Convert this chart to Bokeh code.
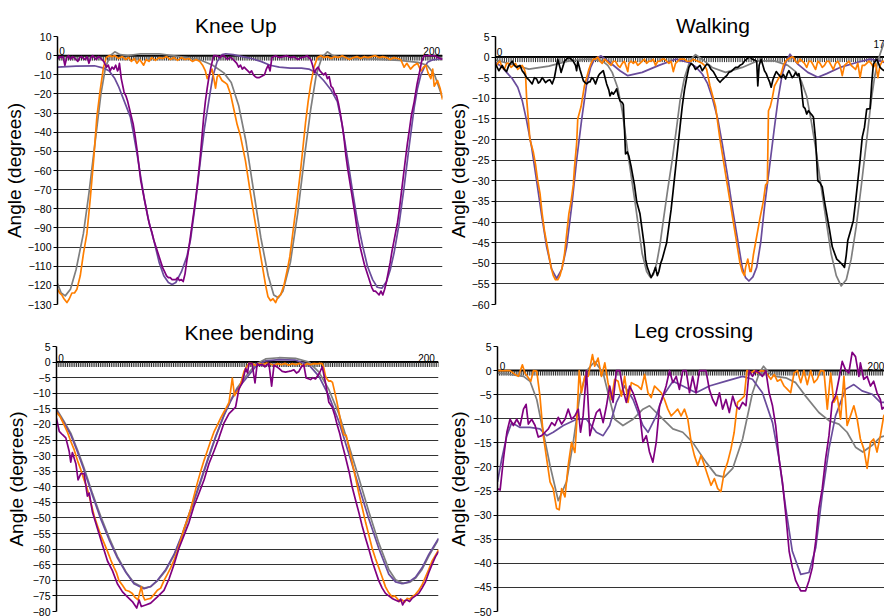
from bokeh.plotting import figure
from bokeh.layouts import column, row
from bokeh.models import Range1d, FixedTicker, Span
from bokeh.core.properties import value
from bokeh.embed import file_html
from bokeh.resources import INLINE

FONT = "Liberation Sans"
ORANGE = "#FF7F00"
PURPLE = "#800080"
GREY = "#7F7F7F"
SLATE = "#6A4C9C"
BLACK = "#000000"

# ---------------------------------------------------------------- Knee Up
KU_YTICKS = [10, 0, -10, -20, -30, -40, -50, -60, -70, -80, -90, -100, -110, -120, -130]
KU_XTICKS = [0, 200]
KU_XTICK_LABELS = ["0", "200"]
KU_ORANGE = [(0,-122),(1.2,-124),(2.3,-125),(3.5,-127),(5.1,-129),(6.4,-127),(7.8,-124),(9.2,-124),(10.5,-122),(12.3,-115),(14.1,-103),(15.9,-93),(17.7,-75),(19.5,-55),(21.3,-32),(23.1,-18),(24.9,-6),(26.4,-1),(28,0),(29.5,-0.5),(31,0),(33,-1.5),(35,-0.5),(37,-2),(38.5,-1),(40,-3),(41.5,-1.5),(43,-4),(44.5,-2),(46.6,-5),(48,-2),(49.5,-3),(51,-1),(53,-2.5),(55,-1),(57,-1.5),(59,-0.5),(61,-2),(63,-1),(65,-2.5),(67,-1),(69,-2),(71,-1.5),(73,-3),(75,-2),(77,-3),(78.5,-5),(80,-8),(81,-12),(82.2,-10),(83.6,-7),(84.6,-12),(85.5,-17),(86.4,-11),(87.3,-10),(89,-13),(90.5,-14),(91.8,-15),(93.6,-20),(95.4,-28),(97.2,-36),(99,-42),(101.7,-55),(104.4,-72),(107.1,-88),(109.8,-104),(112.6,-120),(113.9,-126),(115.3,-128),(116.6,-127),(118,-129),(119.3,-126),(120.7,-125),(122.5,-120),(124.3,-112),(125.7,-105),(127,-95),(128.3,-85),(129.7,-75),(131.5,-60),(132.8,-48),(134.2,-35),(135.6,-24),(137,-15),(138.8,-6),(140.6,-1),(142.5,0),(144,-1),(146,-0.5),(148,-1.5),(150,-0.5),(152,-1),(154,0),(156,-1),(158,-2),(160,-1),(162,-0.5),(164,-1.5),(166,-0.5),(168,-1),(170,-0.5),(172,0),(174,-1),(176,-0.5),(178,-1),(180,-2),(182,-1),(184,-1.5),(185.7,-2),(187.5,-6),(189,-4),(191,-7),(193,-5),(194.8,-4),(196.6,-8),(198,-6),(199.3,-5),(200.5,-9),(202,-12),(203,-7),(203.8,-16),(205.6,-13),(207,-17),(208.3,-23)]
KU_PURPLE = [(0,-2),(1,-0.5),(2,-1),(3,-0.5),(4,-5),(5,-1),(6,0),(7,-2),(8,-0.5),(9,-1),(10,-2),(11,-3),(12,-1),(13,-0.5),(14,-1.5),(15,-2),(16,-0.5),(17,-4),(18,-1),(19,0),(20,-1),(21,-2),(22,-0.5),(23,-1),(24,-2),(25,-3),(26.5,-6),(27.5,-5),(28.5,-8),(29.5,-6),(30.5,-7),(31.5,-5),(32.5,-8),(33,-7),(33.5,-4),(34.5,-12),(36,-19),(37,-21),(38,-24),(39,-28),(40,-32),(41,-36),(42,-42),(43,-49),(44,-57),(45,-65),(46,-70),(47,-75),(48,-80),(49,-85),(50,-89),(51,-92),(52,-96),(53,-99),(54,-102),(55,-105),(56,-108),(57,-111),(58,-113),(59,-115),(60,-116),(61,-116),(62,-117),(63,-117),(64,-117),(65,-116),(66,-117.5),(67,-117),(68,-118),(69,-114),(70,-107),(71,-101),(72,-94),(73,-87),(74,-80),(75,-73),(75.5,-69),(76.5,-60),(77.5,-50),(78.3,-41),(79.1,-32),(80,-24),(81,-17),(81.8,-12),(83,-6),(84,-2),(84.6,0),(86,0),(87,-0.5),(88,-1),(89,0),(90,0),(91,-1),(92,-2),(93,-1),(94,-1),(95,-2),(96,-3),(97,-4),(98,-6),(99,-5),(100,-7),(101,-6),(102,-7),(103,-8),(104,-9),(105,-8),(106,-10),(107,-11),(108,-11.5),(109,-11.5),(110,-11),(111,-10.5),(112,-10),(113,-7),(114,-5),(115,-8),(116,-1),(117,-0.5),(118,0),(120,-1),(122,-0.5),(124,0),(126,-1),(128,-0.5),(130,-2),(132,-1),(134,-0.5),(135,0),(136,-1),(137,-2),(138,-5),(139,-9),(140,-7),(141,-6),(142,-8),(143,-9),(144,-10),(145,-9),(146,-12),(147,-11),(148,-16),(149,-17),(150,-20),(151,-21),(152,-25),(153,-30),(154,-36),(155,-43),(156,-52),(157,-59),(158,-65),(159,-71),(160,-77),(161,-83),(162,-90),(163,-96),(164,-101),(165,-105),(166,-109),(167,-112),(168,-115),(169,-118),(170,-121),(171,-123),(172,-123),(173,-124),(174,-125),(175,-123),(176,-125),(177,-122),(178,-118),(179,-113),(180,-108),(181,-102),(182,-97),(183,-92),(184,-87),(185,-80),(186,-72),(187,-64),(188,-56),(189.3,-46),(190.5,-38),(191.5,-31),(193,-24),(194.5,-15),(196,-8),(197,-3),(198.4,0),(200,0),(202,0),(204,0),(206,-1),(208.3,-2)]
KU_GREY = [(0,-119),(2,-124),(4.2,-125.5),(7,-122),(10,-112),(14,-93),(17,-72),(21,-40),(23.5,-20),(26,-6),(28.5,0),(31,2),(34,0.5),(38,0),(45,1),(55,1),(62,0),(70,-1),(78,-2.5),(84,-5),(90,-9),(94,-14),(98,-26),(102,-45),(106,-70),(110,-95),(114,-115),(117,-125),(119.5,-126.5),(122,-123),(126,-108),(130,-82),(134,-50),(137,-28),(140,-10),(143,-1),(146,2),(149,0),(155,-1),(165,-1.5),(175,-2),(185,-2.5),(195,-3.5),(200,-5),(204,-10),(208.3,-22)]
KU_SLATE = [(0,-6),(10,-5.5),(20,-5.3),(25,-6.5),(28,-8),(31,-12),(33,-16),(35,-21),(37,-26),(39.4,-32),(41,-40),(43,-51),(44.8,-62),(47,-75),(49.5,-87),(52,-96),(55,-108),(57.5,-115),(60,-118.5),(62,-119.5),(64,-118.5),(67,-113),(70,-105),(72,-96),(74.5,-78),(77.3,-55),(79.5,-38),(81.8,-24),(84,-11),(86.4,-3),(89,0.5),(91,1),(95,0.5),(100,-0.5),(105,-1.5),(110,-3),(115,-5),(120,-6),(126,-6.5),(132,-6.5),(136,-7),(140,-9),(144,-13),(148,-18),(151.4,-24),(154,-36),(156.8,-53),(159.5,-70),(162.2,-86),(165,-99),(167.7,-110),(170.5,-117),(173,-121),(175.5,-121.5),(178,-118),(180,-112),(182.1,-103),(184.8,-88),(187.5,-69),(190.3,-47),(193,-27),(194.8,-17),(196.6,-10),(198.5,-6),(200.2,-3.5),(203,-2.2),(208.3,-1.5)]

# ---------------------------------------------------------------- Walking
WK_YTICKS = [5, 0, -5, -10, -15, -20, -25, -30, -35, -40, -45, -50, -55, -60]
WK_XTICKS = [0, 175]
WK_XTICK_LABELS = ["0", "17"]
WK_ORANGE = [(0,-2.5),(1,-1.5),(2,-1),(3,-2.5),(4,-3),(5,-1.5),(6,-1.5),(7,-2.5),(8,-2),(9,-1.5),(10,-3),(11,-2.5),(12,-2),(13,-3),(13.5,-4),(14,-10),(15.5,-20),(16.5,-22),(17,-23),(18,-26),(19,-30),(20,-33),(21,-38),(22,-42),(23,-45),(24,-48),(25,-51),(26,-53),(27,-54),(28,-54),(29,-53),(30,-51),(31,-48),(32,-43),(33,-38),(34,-35),(35,-31),(35.5,-27),(36.5,-21),(37,-15),(38.5,-12),(40,-7),(41,-5),(42,-3),(43,-1.5),(44,-0.5),(45,-0.5),(46,0),(47,-1),(48,-1.5),(49,-0.5),(50,-1),(51,-1.5),(52,-2),(53,-1),(54,-1),(55,-2),(56,-2.5),(57,-1.5),(58,-1),(59.5,-3.5),(60,-1.5),(61,-1),(62,-1.5),(63,-1),(64,-2),(65,-1.5),(66,-1),(67,-0.5),(68,-1.5),(69,-1),(70,-1),(71,-0.5),(72,-2),(73,-1),(74,-1),(75,-0.5),(76,-0.5),(77,-1),(78,-1.5),(79,-1),(80,-3.5),(81,-1.5),(82,-1),(83,-0.5),(85,-0.5),(86,-1),(88,-1),(89,-0.5),(91,-1),(93,-1.5),(94,-2),(95,-3),(96.5,-7),(98,-10),(99,-12),(100,-16),(101,-20),(102.5,-25),(104,-30),(105.5,-35),(107,-40),(108.5,-45),(110,-50),(111,-52),(112,-53),(112.5,-51),(113.5,-49),(114.5,-52),(115,-52),(116,-48),(117,-45),(118,-42),(119,-39),(120.5,-35),(121.5,-31),(122.3,-30.5),(122.8,-13),(123.6,-12),(124.5,-10),(125.5,-7),(126.5,-6),(127.5,-5),(128.5,-4),(129.5,-2),(130.5,-1),(131.5,-0.5),(133,0),(134,0),(135,-1),(136,-1.5),(137,-0.5),(138,-1),(139,-1.5),(140,-2.5),(141,-1),(142,-1),(143,-2),(144,-3),(145,-1),(146,-1.5),(147,-2.5),(148,-2),(149,-1),(150,-1),(151,-2),(152,-3),(153,-1.5),(154,-1),(155,-2),(156,-4.5),(157,-2),(158,-1.5),(159,-1),(160,-2),(161,-2.5),(162,-3),(163,-1.5),(164,-5),(165,-2),(166,-2),(167,-1.5),(168,-1),(169,-1.5),(170,-2.5),(171,-1.5),(172,-5),(173,-2),(173.5,-1.5),(174,-1),(175,-1)]
WK_BLACK = [(0,-1.7),(1.5,-3.3),(3,-2),(4,-3),(5,-3.5),(6,-2),(7.5,-1),(8.5,-2),(9.5,-2.5),(11,-2),(12,-3.3),(13,-4),(14,-5),(15,-5.5),(16.5,-6.5),(17.5,-5),(18.5,-5.3),(19.3,-6.3),(20,-6),(21,-5),(21.5,-5.3),(22.5,-6.2),(23.5,-5.7),(24.5,-5.5),(25.5,-6.5),(26.5,-5),(27.5,-2),(28,-0.5),(29,-2.5),(29.5,-3.7),(30.5,-2),(31,-1),(32,-0.5),(33,0),(34,-0.5),(35,-1),(36,-2),(36.5,-3.3),(37,-1),(38,-3),(39.5,-5.7),(40.3,-6.2),(41,-6.5),(42,-6),(42.5,-6),(43.3,-5),(44,-5.3),(45,-6.5),(45.5,-5.7),(46.3,-4.5),(47,-4),(48,-3.5),(48.5,-3.3),(49.3,-5),(50,-6.5),(51,-8),(51.5,-9.4),(52.3,-8.5),(53,-9),(54,-8.2),(54.5,-7.7),(55.3,-9.5),(56,-10.6),(57,-11),(57.5,-11.5),(58,-17),(58.5,-23.5),(59.3,-23),(60,-24),(61,-26.5),(61.5,-28),(62.5,-31),(63.5,-35),(65,-38),(66,-42),(67,-46),(67.5,-49),(68.3,-51),(69,-52),(70,-53.5),(70.5,-53),(71.3,-52),(72,-51),(72.8,-53),(73.5,-52),(74.3,-50),(75,-49),(76,-47),(77,-45),(78,-41),(79,-37),(80,-32),(81,-27),(82,-22),(83,-17),(84,-12),(85,-8),(86,-5),(87,-2.5),(88,-1.5),(89,-2),(90,-3),(91,-2.5),(92,-2),(93,-3.3),(94,-2.5),(95,-1.7),(96,-2),(97,-3),(98,-3.5),(99,-4.5),(100,-5.5),(101,-6.1),(102,-5.5),(103,-5),(104,-4.5),(105,-3.7),(106,-3.5),(107,-3),(108,-2.5),(109,-2.5),(110,-2),(111,-1.7),(112,-1),(113,-0.5),(114,0),(114.5,0),(115.5,-0.5),(116.5,-0.7),(117.5,-1),(118,-7),(118.6,-2),(119.5,-0.5),(120.3,-2),(121,-3.3),(121.8,-4),(122.5,-5),(123.3,-6),(124,-7.3),(124.8,-5.5),(125.5,-4.5),(126.3,-3.5),(127,-4),(127.8,-4.5),(128.5,-5),(129.5,-4.2),(130.5,-5.3),(131.3,-4),(132,-3.3),(132.8,-4.2),(133.5,-5),(134.3,-4.5),(135,-3.7),(135.8,-4.5),(136.5,-4),(137.5,-7),(138.5,-12),(139.3,-12.5),(140,-13.8),(140.8,-13),(141.5,-13.5),(142.3,-14),(143,-14.5),(144,-20),(145,-30),(146,-30.5),(147,-31.5),(148,-35),(149,-38),(150.3,-42),(151.5,-46),(152.5,-47.5),(153.5,-49),(154.5,-49.5),(155.5,-50),(156.3,-50.5),(157,-51),(157.8,-48),(158.5,-44.4),(159.8,-42),(161,-39.6),(162,-35),(163,-30),(164,-25),(165,-19.4),(166,-17),(167,-12.6),(168.5,-12.5),(169.3,-6),(170,-1.7),(170.8,-1),(171.5,-0.5),(172.3,-1.5),(173,-2.5),(174,-3),(175,-3.3)]
WK_GREY = [(0,-0.7),(7,-1.7),(15,-2.9),(24,-2.2),(33,-0.9),(42,-0.5),(48,-0.9),(50.5,-2),(52.5,-3.7),(55,-7.5),(57,-13),(60,-25),(63,-36),(66,-47.7),(68,-52),(69.5,-53.3),(71,-52.8),(72.5,-50),(74,-45.5),(75.5,-39.6),(77.5,-32),(79.5,-25),(81.5,-17),(83,-10.6),(85,-5),(87,-1.7),(88.5,-0.2),(90,0.6),(93,-0.5),(97.5,-2.5),(103.5,-3.7),(111,-2.5),(118,-0.9),(125.5,-0.9),(131.5,-2),(135,-3.5),(137.5,-5.7),(140,-9.5),(142,-15.4),(144.3,-23),(146.5,-31.5),(149,-40.5),(151,-47.7),(153.3,-53),(155.5,-55.5),(157.8,-54),(160,-49),(162.3,-41),(164.5,-31.5),(167,-20),(169,-10.6),(170.5,-5),(172,-0.9),(174,2.3),(175,3.5)]
WK_SLATE = [(0,-1.3),(2.5,-2.2),(5,-3.7),(7.5,-5.2),(10,-7.3),(12,-10.5),(14,-15.4),(16.3,-22),(18.5,-30),(20.8,-38.5),(23,-46),(25.3,-51.5),(27.5,-53.7),(29.8,-51.5),(32,-46),(34.3,-36),(36.5,-25),(38.8,-15),(41,-6.5),(42.8,-2.5),(44.5,-0.5),(47.5,0.3),(51.5,-1.3),(56,-3.3),(59.5,-4.5),(66,-3.7),(73.5,-2),(81,-0.5),(87,-1.3),(90,-2.3),(93,-4.1),(95.3,-6.3),(97.5,-9.8),(100,-15),(102,-21),(104.3,-28.5),(106.5,-36.4),(109,-44.5),(111,-51),(112.5,-53.5),(114,-54.3),(115.8,-53.3),(117.5,-51),(119.3,-45),(121,-36.4),(123.3,-26.5),(125.5,-17),(127.3,-9.5),(129,-4.1),(130.8,-1),(132.5,0.7),(134.3,-0.5),(136,-1.7),(140.5,-3.7),(145,-4.9),(149,-4),(155,-2.5),(162.5,-1.3),(168.5,-0.5),(173,-0.9),(175,-1.3)]

# ---------------------------------------------------------------- Knee bending
KB_YTICKS = [5, 0, -5, -10, -15, -20, -25, -30, -35, -40, -45, -50, -55, -60, -65, -70, -75, -80]
KB_XTICKS = [0, 200]
KB_XTICK_LABELS = ["0", "200"]
KB_ORANGE = [(0,-16),(2,-17.5),(4.2,-20.2),(6,-22.5),(7.8,-25.4),(9.6,-28),(11.5,-31.6),(13.3,-34.5),(15.1,-37.8),(16.5,-40),(17.9,-43),(19.2,-46),(20.6,-49.3),(22.4,-52.5),(24.2,-55.5),(26,-58),(27.9,-60.7),(29.7,-63.5),(31.5,-65.9),(32.8,-67.5),(34.2,-70.1),(36,-71.5),(37.9,-73.2),(39.7,-73.5),(41.5,-74.2),(43,-75.5),(44.6,-76.3),(45.5,-74),(46.4,-72.1),(47.3,-75),(48.3,-76.3),(50,-76),(51.5,-75.8),(53.4,-74.5),(55.2,-73.2),(57,-72.5),(58.8,-70.1),(60.7,-68),(62.5,-65.9),(64.3,-63.5),(66.1,-60.7),(68,-57),(69.8,-53.4),(71.6,-50.5),(73.4,-47.2),(75.2,-43),(77,-38.9),(78.9,-35),(80.7,-31.6),(82.5,-28.5),(84.3,-25.4),(86.1,-22.5),(88,-20.2),(89.8,-18),(91.6,-16),(93,-14.5),(94.4,-12.9),(95.3,-9),(96.2,-5.1),(97.4,-10.8),(98.6,-9.5),(99.8,-8.7),(101.2,-6),(102.6,-3),(104,-1.5),(105.3,-0.4),(107,-0.5),(109,-1),(111,-0.5),(113,-0.8),(115,-0.3),(117,-0.6),(119,-1),(121,-0.5),(123,-0.8),(125,-0.4),(127,-1),(129,-0.5),(131,-0.8),(133,-0.4),(135,-1.2),(137,-0.5),(139,-0.8),(140.8,-0.5),(142.6,-0.6),(144,-0.4),(145.4,-0.5),(146.3,-2),(147.2,-4.6),(148.1,-5.5),(149,-6.1),(150,-6),(151,-6.5),(152.3,-9.8),(153.5,-13),(154.5,-16),(155.8,-20),(157.2,-23.3),(158.5,-23.5),(160.2,-28),(161.9,-32.6),(163.6,-37),(165.4,-42),(167.2,-46.5),(169.1,-51.4),(170.9,-55.5),(172.7,-59.7),(174.5,-63),(176.3,-65.9),(178.2,-69),(180,-72.1),(181.8,-74),(183.6,-75.3),(185,-75),(186.3,-75.8),(187.7,-76.8),(189.1,-76.3),(190.5,-77),(191.8,-75.8),(193.2,-76),(194.5,-75.3),(196.4,-74.5),(198.2,-73.2),(200,-71.5),(201.8,-69),(203.7,-66.5),(205.5,-63.8),(207.3,-62),(209.1,-60.2)]
KB_PURPLE = [(0,-18.1),(1.5,-22.2),(3.3,-23.3),(5.1,-24.3),(6.9,-28.5),(7.8,-32.1),(8.7,-29),(10.6,-32.6),(11.8,-37.8),(13.3,-35.8),(15.1,-35.8),(16.9,-43),(17.9,-42),(19.7,-48.2),(22.4,-53.4),(25.1,-58.6),(27.9,-63.8),(30.6,-66.9),(33.3,-71.1),(36.1,-73.7),(38.8,-75.3),(41.5,-76.8),(43.9,-78.9),(45.2,-76.3),(46.4,-78.4),(48.8,-77.9),(51.5,-77.3),(55.2,-75.3),(58.8,-73.2),(61.6,-69.5),(64.3,-64.9),(67,-59.7),(69.8,-55.5),(72.5,-51.4),(75.2,-46.2),(78,-42),(80.7,-37.8),(83.4,-32.6),(86.2,-28.5),(88.9,-24.3),(91.6,-19.6),(94.4,-16.5),(96.2,-15.5),(98,-14.4),(99.8,-8.7),(101.6,-6.7),(103.5,-2),(104.5,-3.5),(105.3,-0.4),(107,-0.5),(108.6,-6.7),(109.8,-0.5),(111,-1),(112.6,-0.8),(114,-1.5),(116.2,-0.4),(117.7,-7.7),(119,-1),(120.5,-1.5),(121.7,-2),(123.5,-3),(125.3,-3.2),(127.1,-3),(128.5,-2.8),(129.9,-2.5),(131.3,-3.5),(132.6,-3),(134,-1.5),(135.3,-0.9),(136.6,-5.1),(139,-5.6),(140.3,-5),(141.7,-5.4),(143.9,-3.5),(145.4,-1.5),(147.2,-6.7),(149,-12.9),(150.8,-14.4),(152.2,-17),(153.6,-20.2),(155,-23),(156.3,-26.4),(157.7,-29.5),(159,-32.6),(160.4,-36),(161.7,-39.9),(163.5,-44),(165.4,-48.2),(167.2,-52.5),(169.1,-56.5),(170.9,-60),(172.7,-63.8),(174.5,-67),(176.3,-70.1),(178.2,-72.5),(180,-74.2),(181.8,-75),(183.6,-75.8),(185.4,-76.3),(187.2,-76.8),(188.3,-76),(189.4,-77.9),(190.6,-76.5),(191.8,-76.3),(193.2,-76.8),(194.5,-75.8),(196.4,-75),(198.2,-74.2),(200,-72.5),(201.8,-70.6),(203.7,-67.5),(205.5,-64.9),(207.3,-62.5),(209.1,-60.7)]
KB_GREY = [(0,-15),(3.9,-18.8),(7.8,-22.8),(11.5,-28.2),(15.1,-34),(19.7,-42.2),(24.2,-49.5),(28.8,-56.3),(33.3,-62.3),(38,-67.3),(42.4,-70.8),(47.9,-72.5),(51.5,-72),(55.2,-70.2),(59.8,-66.8),(64.3,-62),(68.9,-55.5),(73.4,-47.8),(78,-40),(82.5,-32),(87,-24.2),(91.6,-17.2),(95.3,-12.2),(98.9,-8.2),(103.5,-4.6),(108.9,-0.8),(114.4,1),(121.7,1.4),(130.8,1.2),(138.1,0),(143.6,-3.2),(149,-8.8),(154.5,-16.6),(160,-26.8),(165.4,-37.2),(170.9,-48),(176.3,-58),(181.8,-66.5),(185.5,-69.8),(190,-71),(193.5,-70.6),(196.4,-69.3),(200,-66.5),(203.7,-62.2),(209.1,-56.8)]
KB_SLATE = [(0,-15.5),(3.9,-19.3),(7.8,-23.3),(11.5,-28.8),(15.1,-34.7),(19.7,-42.8),(24.2,-50.3),(28.8,-57),(33.3,-62.8),(38,-67.5),(42.4,-71.1),(47.9,-72.7),(51.5,-72),(55.2,-70),(59.8,-66.5),(64.3,-61.7),(68.9,-55),(73.4,-47.2),(78,-39.5),(82.5,-31.6),(87,-24),(91.6,-17),(95.3,-12.5),(98.9,-8.7),(103.5,-5.4),(108.9,-1.5),(114.4,0.4),(121.7,0.8),(130.8,0.6),(138.1,-0.9),(143.6,-4.6),(149,-10.8),(154.5,-19.1),(160,-29.5),(165.4,-39.9),(170.9,-50.3),(176.3,-59.7),(181.8,-68),(185.5,-70.5),(189.1,-71.1),(192.8,-70.5),(196.4,-69),(200,-66),(203.7,-61.7),(209.1,-56.5)]

# ---------------------------------------------------------------- Leg crossing
LC_YTICKS = [5, 0, -5, -10, -15, -20, -25, -30, -35, -40, -45, -50]
LC_XTICKS = [0, 200]
LC_XTICK_LABELS = ["0", "200"]
LC_ORANGE = [(0,0),(6.7,0),(9.4,-0.8),(11.2,-1.2),(13.3,1.2),(14.7,-0.5),(16.5,-1.5),(17.8,-2.2),(19.2,0),(21.0,-0.1),(22.7,-5.3),(24.5,-13.5),(26.3,-18.3),(28.1,-23.1),(29.8,-24.5),(31.6,-28.6),(33.0,-28.9),(34.3,-24.5),(36.1,-26.2),(37.8,-19.7),(39.6,-14.9),(41.4,-17.0),(42.3,-11.4),(43.7,0),(44.9,-4.6),(46.7,-1.2),(48.5,-1.2),(50.8,3.3),(52.0,0.9),(53.8,2.6),(55.6,-1.2),(57.4,1.6),(59.1,-2.5),(60.9,-6.0),(62.7,-1.8),(64.5,-2.2),(66.3,-5.3),(68.0,-1.2),(69.8,-6.6),(71.6,-2.5),(73.4,-2.9),(75.1,-3.2),(76.9,-3.9),(78.7,-0.8),(80.5,-4.6),(82.2,-5.6),(84.0,-3.2),(85.8,-3.9),(87.6,-4.6),(89.3,-6.0),(91.1,-8.0),(92.9,-9.4),(94.7,-8.7),(96.4,-8.0),(98.2,-9.4),(100.0,-8.0),(101.8,-10.1),(103.6,-14.9),(105.3,-17.6),(107.1,-19.7),(108.9,-17.6),(110.7,-19.7),(112.4,-21.7),(114.2,-23.8),(116.0,-22.4),(117.8,-24.5),(119.5,-25.1),(121.3,-21.0),(123.1,-19.0),(124.9,-16.2),(126.6,-12.8),(128.4,-6.6),(130.2,-6.0),(132.0,-5.3),(133.4,0),(135.5,-0.5),(137.3,0),(139.1,-0.5),(140.9,0),(142.6,-0.1),(144.4,-0.8),(146.2,-1.8),(148.0,-0.8),(149.7,-2.2),(151.5,-1.8),(153.3,-3.2),(155.1,-3.9),(156.8,-4.6),(158.6,-0.5),(160.4,0),(162.2,-2.5),(163.9,0),(165.7,-2.9),(167.5,0),(169.3,-2.5),(171.0,-1.8),(172.8,0),(174.6,-0.1),(176.4,-8.0),(178.2,-0.5),(179.9,-6.6),(181.7,-5.3),(183.5,-10.1),(185.3,-1.2),(187.0,-11.4),(188.8,-9.4),(190.6,-7.3),(192.4,-10.1),(194.1,-14.2),(195.9,-16.2),(197.7,-20.3),(199.5,-14.9),(201.2,-14.2),(203.0,-16.9),(204.8,-13.5),(206.6,-9.4),(207.8,-8.7)]
LC_PURPLE = [(0,-24.5),(1.4,-24.8),(3.2,-18.3),(5.0,-12.8),(6.7,-10.1),(8.5,-11.4),(10.3,-10.1),(12.1,-11.4),(13.9,-8.0),(15.3,-7.0),(16.5,-11.1),(18.3,-10.1),(20.1,-11.4),(21.8,-13.8),(23.6,-13.5),(25.4,-12.8),(27.2,-12.1),(29.0,-10.8),(30.7,-11.4),(32.5,-9.7),(34.3,-11.1),(36.1,-10.1),(37.8,-8.0),(39.6,-10.1),(41.4,-9.4),(43.2,-8.0),(44.4,-12.8),(45.8,-9.4),(47.6,0),(49.4,-13.5),(51.2,-10.8),(52.9,-8.7),(54.7,-8.0),(56.5,-10.8),(58.3,-7.3),(60.0,-3.2),(61.8,-6.6),(63.6,0),(65.4,0),(67.1,-3.9),(68.9,-6.6),(70.7,-3.2),(72.5,-4.6),(74.2,-6.6),(76.0,-8.7),(77.8,-14.9),(79.6,-13.5),(81.3,-16.9),(83.1,-19.0),(84.9,-14.9),(86.7,-7.3),(88.5,-5.3),(90.2,-3.2),(92.0,0),(93.8,-2.5),(95.6,-1.2),(97.3,-3.9),(99.1,0),(100.9,0),(102.7,-4.6),(104.4,-1.2),(106.2,-4.6),(108.0,0),(109.8,0),(111.5,0),(113.3,-3.9),(115.1,-6.0),(116.9,-7.3),(118.7,-4.6),(120.4,-8.0),(122.2,-6.0),(124.0,-8.7),(125.8,-5.3),(127.5,-7.3),(129.3,-8.0),(131.1,-6.6),(132.9,-7.3),(134.6,0),(136.4,-1.2),(138.2,0),(140.0,-0.5),(141.7,-1.2),(143.5,0),(145.3,-4.6),(147.1,-7.3),(148.8,-11.4),(150.6,-18.3),(152.4,-23.1),(154.2,-29.9),(156.0,-37.5),(157.7,-40.9),(159.5,-43.6),(162.2,-45.7),(164.8,-45.7),(166.6,-43.6),(168.4,-40.9),(170.2,-35.4),(171.9,-28.6),(173.7,-24.5),(175.5,-18.3),(177.3,-13.5),(179.0,-6.6),(180.8,-5.3),(182.6,-1.8),(184.4,1.9),(186.1,0.2),(187.9,-0.5),(189.7,3.8),(191.5,2.9),(193.3,-1.2),(194.1,1.6),(195.9,-1.8),(197.7,-1.2),(199.5,-3.2),(201.2,-2.2),(203.0,-4.6),(204.8,-6.0),(205.7,-8.0),(207.8,-7.3)]
LC_GREY = [(0,-0.5),(6.7,-0.8),(13.9,-1.2),(17.4,-2.2),(21.0,-6.0),(24.5,-12.8),(28.1,-19.7),(32.5,-27.0),(36.9,-23.1),(40.5,-14.9),(44.0,-5.3),(47.6,-0.1),(52.0,1.9),(56.5,-0.5),(60.0,-6.0),(62.7,-10.1),(67.1,-11.4),(72.5,-10.1),(77.8,-8.0),(81.3,-7.3),(86.7,-9.4),(93.8,-12.1),(99.1,-12.8),(104.4,-14.9),(111.5,-19.0),(116.9,-21.7),(121.3,-22.1),(125.8,-20.3),(131.1,-14.2),(136.4,-4.6),(140.0,-0.5),(142.3,0.9),(145.3,-0.5),(148.8,-1.2),(154.2,-1.5),(159.5,-2.5),(164.8,-5.3),(171.9,-8.7),(177.3,-10.4),(182.6,-11.1),(187.0,-12.8),(191.5,-15.9),(195.4,-16.9),(200.4,-15.5),(204.8,-13.8),(207.8,-13.5)]
LC_SLATE = [(0,-23.1),(2.3,-18.3),(5.0,-13.5),(7.6,-10.8),(12.1,-11.8),(17.4,-11.8),(22.7,-12.1),(26.3,-13.5),(29.8,-12.8),(35.2,-11.4),(42.3,-10.1),(47.6,-10.1),(52.9,-12.8),(56.5,-13.5),(60.0,-11.4),(63.6,-6.6),(68.0,-3.2),(72.5,-6.0),(77.8,-11.4),(80.5,-12.8),(84.9,-9.4),(88.5,-5.3),(93.8,-2.2),(99.1,-3.2),(106.2,-4.6),(113.3,-3.2),(122.2,-2.2),(131.1,-1.2),(136.4,-1.8),(141.7,-4.6),(147.1,-10.8),(150.6,-18.3),(154.2,-28.6),(157.7,-37.5),(162.2,-42.3),(166.6,-41.9),(170.2,-36.8),(173.7,-25.8),(177.3,-16.2),(180.8,-9.4),(186.1,-3.9),(190.6,-2.9),(195.0,-4.2),(200.4,-4.9),(204.8,-6.6),(207.8,-6.6)]


def xy(pairs):
    return [a for a, _ in pairs], [b for _, b in pairs]


def make_panel(title, xmax, yticks, xticks, xlabels, series, w, h, bl, br, bt, bb,
               title_dx, title_standoff, label_aligns, label_dx, label_dy, ylab_standoff):
    ylo, yhi = min(yticks), max(yticks)
    p = figure(width=w, height=h, x_range=Range1d(0, xmax), y_range=Range1d(ylo, yhi),
               x_axis_location=None, output_backend="svg", toolbar_location=None,
               min_border_left=bl, min_border_right=br, min_border_top=bt, min_border_bottom=bb)
    p.outline_line_color = None
    p.background_fill_color = "white"
    p.border_fill_color = "white"
    p.xgrid.visible = False
    p.ygrid.ticker = FixedTicker(ticks=yticks)
    p.ygrid.grid_line_color = "#000000"
    p.ygrid.grid_line_alpha = 0.8
    p.ygrid.grid_line_width = 1

    p.title.text = title
    p.title.text_font = FONT
    p.title.text_font_size = "21px"
    p.title.text_font_style = "normal"
    p.title.text_color = "black"
    p.title.align = "left"
    p.title.offset = title_dx
    p.title.standoff = title_standoff

    ax = p.yaxis[0]
    ax.ticker = FixedTicker(ticks=yticks)
    ax.minor_tick_line_color = None
    ax.major_tick_out = 4
    ax.major_tick_in = 0
    ax.major_tick_line_color = "black"
    ax.axis_line_color = "black"
    ax.axis_line_width = 1.5
    ax.major_label_text_font = FONT
    ax.major_label_text_font_size = "10.5px"
    ax.major_label_text_color = "black"
    ax.major_label_standoff = 2
    ax.axis_label = "Angle (degrees)"
    ax.axis_label_text_font = FONT
    ax.axis_label_text_font_size = "19px"
    ax.axis_label_text_font_style = "normal"
    ax.axis_label_text_color = "black"
    ax.axis_label_standoff = ylab_standoff

    # category axis at y = 0 with a tick at every sample
    frame_h = h - bt - bb
    tick_len = 5 * (yhi - ylo) / frame_h
    xs = list(range(0, int(xmax) + 1))
    p.add_layout(Span(location=0, dimension="width", line_color="black", line_width=2, level="underlay"))
    p.segment(x0=xs, y0=[0] * len(xs), x1=xs, y1=[-tick_len] * len(xs),
              line_color="#2a2a2a", line_width=1)

    for pairs, color in series:
        sx, sy = xy(pairs)
        p.line(sx, sy, line_color=color, line_width=1.7, line_join="round")

    for xv, txt, al, dx, dy in zip(xticks, xlabels, label_aligns, label_dx, label_dy):
        p.text(x=[xv], y=[0], text=[txt], text_font=value(FONT), text_font_size="10px",
               text_color="black", text_align=al, text_baseline="alphabetic",
               x_offset=dx, y_offset=dy)
    return p


p1 = make_panel("Knee Up", 208.3, KU_YTICKS, KU_XTICKS, KU_XTICK_LABELS,
                [(KU_GREY, GREY), (KU_SLATE, SLATE), (KU_ORANGE, ORANGE), (KU_PURPLE, PURPLE)],
                444, 310, 57, 2, 35, 5, 137.5, 0, ["center", "center"], [4.5, 4.5], [-5, -5], 0)
p2 = make_panel("Walking", 175, WK_YTICKS, WK_XTICKS, WK_XTICK_LABELS,
                [(WK_GREY, GREY), (WK_SLATE, SLATE), (WK_ORANGE, ORANGE), (WK_BLACK, BLACK)],
                440, 310, 47, 0, 36, 6, 180.5, 0, ["center", "right"], [4, 0], [-5, -13], 0)
p3 = make_panel("Knee bending", 209, KB_YTICKS, KB_XTICKS, KB_XTICK_LABELS,
                [(KB_GREY, GREY), (KB_SLATE, SLATE), (KB_ORANGE, ORANGE), (KB_PURPLE, PURPLE)],
                444, 306, 56, 6, 31, 5, 128, 5, ["center", "center"], [4.5, 4.5], [-4, -4], 3)
p4 = make_panel("Leg crossing", 207, LC_YTICKS, LC_XTICKS, LC_XTICK_LABELS,
                [(LC_GREY, GREY), (LC_SLATE, SLATE), (LC_ORANGE, ORANGE), (LC_PURPLE, PURPLE)],
                440, 306, 50, 0, 36, 5, 136.5, 10, ["center", "center"], [5, 4.5], [-5, -5], 2)

layout = column(row(p1, p2), row(p3, p4))
open("out.html", "w").write(file_html(layout, INLINE))
